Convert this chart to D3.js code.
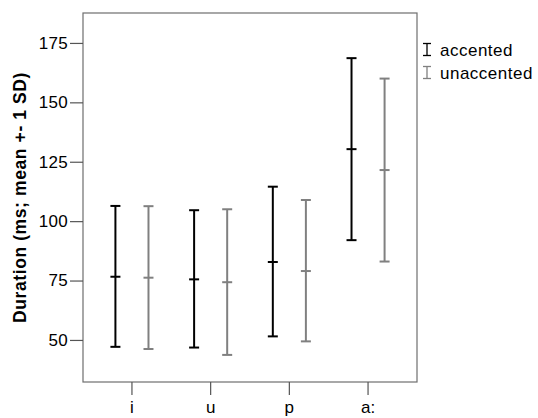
<!DOCTYPE html>
<html>
<head>
<meta charset="utf-8">
<script src="https://cdn.jsdelivr.net/npm/d3@7.9.0/dist/d3.min.js"></script>
<style>
  body { margin: 0; background: #fff; }
  svg { display: block; font-family: "Liberation Sans", Arial, sans-serif; }
</style>
</head>
<body>
<svg id="chart" width="538" height="418"></svg>
<script>
// categories and series
const categories = ['i', 'u', 'p', 'a:'];
const seriesNames = ['accented', 'unaccented'];
const seriesColors = ['#000000', '#808080'];

// mean and +-1 SD bounds per category (ms)
const accentedMean = [76.6, 75.5, 82.8, 130.3];
const accentedLow  = [47.1, 46.8, 51.5, 92.0];
const accentedHigh = [106.4, 104.6, 114.5, 168.6];

const unaccentedMean = [76.2, 74.3, 79.0, 121.5];
const unaccentedLow  = [46.2, 43.7, 49.4, 83.0];
const unaccentedHigh = [106.3, 105.0, 108.9, 160.0];

const yTicks = [50, 75, 100, 125, 150, 175];

const svg = d3.select('#chart');
const plot = { left: 83, right: 417, top: 13, bottom: 382 };
const labelFont = '"Liberation Sans", Arial, sans-serif';

let x = d3.scaleBand()
    .domain(categories)
    .range([plot.left, plot.right])
    .paddingInner(0)
    .paddingOuter(0.122);

let xSeries = d3.scalePoint()
    .domain(seriesNames)
    .range([0, x.bandwidth()])
    .padding(0.69);

let y = d3.scaleLinear()
    .domain([32.3, 187.6])
    .range([plot.bottom, plot.top]);

// frame
svg.append('rect')
    .attr('x', plot.left)
    .attr('y', plot.top)
    .attr('width', plot.right - plot.left)
    .attr('height', plot.bottom - plot.top)
    .attr('fill', 'none')
    .attr('stroke', '#6e6e6e')
    .attr('stroke-width', 1.2);

// y axis
const yAxis = svg.append('g')
    .attr('transform', `translate(${plot.left},0)`)
    .call(d3.axisLeft(y).tickValues(yTicks).tickSize(13).tickPadding(2));
yAxis.select('.domain').remove();
yAxis.selectAll('.tick line').attr('stroke', '#555').attr('stroke-width', 1.2);
yAxis.selectAll('.tick text')
    .attr('fill', '#000')
    .style('font-size', '17px')
    .style('letter-spacing', '0.3px')
    .style('font-family', labelFont);

// x axis
const xAxis = svg.append('g')
    .attr('transform', `translate(0,${plot.bottom})`)
    .call(d3.axisBottom(x).tickSize(13).tickPadding(6));
xAxis.select('.domain').remove();
xAxis.selectAll('.tick line').attr('stroke', '#555').attr('stroke-width', 1.2);
xAxis.selectAll('.tick text')
    .attr('fill', '#000')
    .style('font-size', '17px')
    .style('font-family', labelFont);

// y title
svg.append('text')
    .attr('transform', `translate(26,197.5) rotate(-90)`)
    .attr('text-anchor', 'middle')
    .style('font-size', '17.5px')
    .style('letter-spacing', '0.6px')
    .style('font-weight', 'bold')
    .text('Duration (ms; mean +- 1 SD)');

// build error bar rows
const seriesData = [
    { name: 'accented', mean: accentedMean, low: accentedLow, high: accentedHigh },
    { name: 'unaccented', mean: unaccentedMean, low: unaccentedLow, high: unaccentedHigh }
];

const capHalf = 5;
seriesData.forEach((s, si) => {
    const rows = categories.map((c, i) => ({ cat: c, mean: s.mean[i], low: s.low[i], high: s.high[i] }));
    const g = svg.append('g')
        .attr('stroke', seriesColors[si])
        .attr('stroke-width', 2);
    const bars = g.selectAll('g.bar')
        .data(rows)
        .join('g')
        .attr('class', 'bar')
        .attr('transform', d => `translate(${x(d.cat) + xSeries(s.name)},0)`);
    bars.append('line')
        .attr('y1', d => y(d.low))
        .attr('y2', d => y(d.high));
    ['low', 'mean', 'high'].forEach(k => {
        bars.append('line')
            .attr('x1', -capHalf)
            .attr('x2', capHalf)
            .attr('y1', d => y(d[k]))
            .attr('y2', d => y(d[k]));
    });
});

// legend
const legend = svg.append('g').attr('transform', 'translate(427,0)');
seriesNames.forEach((name, i) => {
    const cy = 49.5 + i * 23;
    const item = legend.append('g')
        .attr('stroke', seriesColors[i])
        .attr('stroke-width', 1.3);
    item.append('line').attr('x1', 0).attr('x2', 0).attr('y1', cy - 6).attr('y2', cy + 6);
    item.append('line').attr('x1', -4).attr('x2', 4).attr('y1', cy - 6).attr('y2', cy - 6);
    item.append('line').attr('x1', -4).attr('x2', 4).attr('y1', cy + 6).attr('y2', cy + 6);
    legend.append('text')
        .attr('x', 13)
        .attr('y', cy + 6.5)
        .style('font-size', '17px')
        .style('letter-spacing', '0.5px')
        .attr('fill', '#000')
        .text(name);
});
</script>
</body>
</html>
